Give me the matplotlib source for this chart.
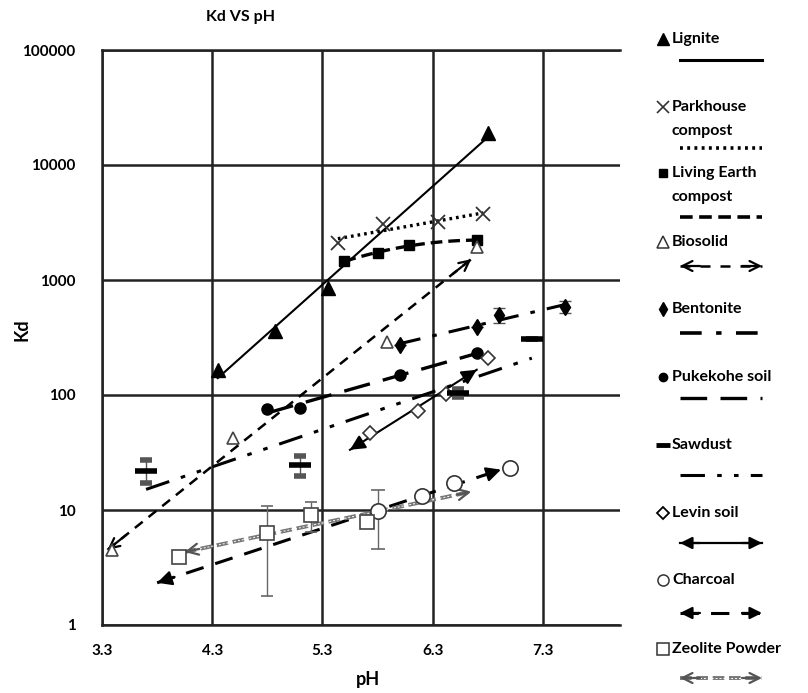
import numpy as np
import matplotlib.pyplot as plt

plt.rcParams['font.family'] = ['Lato', 'DejaVu Sans']
plt.rcParams['font.weight'] = 'bold'

# values: pH and Kd for each sorbent
lignite_ph = [4.35, 4.87, 5.35, 6.80]
lignite_kd = [165, 360, 850, 19000]

parkhouse_ph = [5.44, 5.85, 6.35, 6.76]
parkhouse_kd = [2100, 3080, 3170, 3750]

living_ph = [5.50, 5.80, 6.09, 6.70]
living_kd = [1460, 1720, 2000, 2220]

biosolid_ph = [3.39, 4.49, 5.89, 6.70]
biosolid_kd = [4.5, 42, 290, 1950]

bentonite_ph = [6.0, 6.7, 6.9, 7.5]
bentonite_kd = [272, 390, 497, 582]
bentonite_err = [0, 0, 75, 70]

pukekohe_ph = [4.80, 5.10, 6.00, 6.70]
pukekohe_kd = [75, 77, 149, 232]

sawdust_ph = [3.70, 5.10, 6.53, 7.20]
sawdust_kd = [22, 24.6, 104, 307]
sawdust_err = [5, 5, 8, 0]

levin_ph = [5.73, 6.17, 6.42, 6.80]
levin_kd = [46.7, 72.6, 102, 210]

charcoal_ph = [5.80, 6.20, 6.49, 7.00]
charcoal_kd = [9.8, 13.2, 17.2, 23.2]
charcoal_err = [5.2, 0, 0, 0]

zeolite_ph = [4.0, 4.8, 5.2, 5.7]
zeolite_kd = [3.9, 6.3, 9.05, 7.9]
zeolite_err = [0, 4.5, 2.6, 0]

x_ticks = [3.3, 4.3, 5.3, 6.3, 7.3]
y_ticks = [1, 10, 100, 1000, 10000, 100000]

fig = plt.figure(figsize=(8.08, 6.93), dpi=100)
ax = fig.add_axes([102 / 808, 1 - 625 / 693, 518 / 808, 575 / 693])


def trend(ph, kd, x0, x1, deg=1):
    # exponential trendline (straight in log space)
    c = np.polyfit(ph, np.log10(kd), deg)
    xs = np.linspace(x0, x1, 60)
    return xs, 10 ** np.polyval(c, xs)


def heads(xs, ys, style, color='black', size=16):
    for i, j in [(0, 3), (-1, -4)]:
        ax.annotate('', xy=(xs[i], ys[i]), xytext=(xs[j], ys[j]),
                    arrowprops=dict(arrowstyle=style, color=color, lw=1.6,
                                    mutation_scale=size, shrinkA=0, shrinkB=0))


K = 'black'

# Lignite
xs, ys = trend(lignite_ph, lignite_kd, 4.35, 6.80)
ax.plot(xs, ys, color=K, lw=1.5)
ax.plot(lignite_ph, lignite_kd, '^', color=K, ms=10, zorder=5)

# Parkhouse compost
xs, ys = trend(parkhouse_ph, parkhouse_kd, 5.44, 6.76)
ax.plot(xs, ys, color=K, lw=2.4, ls=(0, (0.8, 1.2)))
ax.plot(parkhouse_ph, parkhouse_kd, 'x', color='#333333', ms=10, mew=1.3, zorder=5)

# Living Earth compost
xs, ys = trend(living_ph, living_kd, 5.50, 6.70, deg=2)
ax.plot(xs, ys, color=K, lw=2.4, ls=(0, (3.5, 1.8)))
ax.plot(living_ph, living_kd, 's', color=K, ms=7, zorder=5)

# Biosolid
xs, ys = trend(biosolid_ph, biosolid_kd, 3.35, 6.65)
ax.plot(xs, ys, color=K, lw=1.8, ls=(0, (4, 3)))
heads(xs, ys, '->', size=18)
ax.plot(biosolid_ph, biosolid_kd, '^', mfc='white', mec='#444444', ms=9, mew=1.2, zorder=5)

# Bentonite
xs, ys = trend(bentonite_ph, bentonite_kd, 6.0, 7.5)
ax.plot(xs, ys, color=K, lw=2.2, ls=(0, (7, 4, 1.5, 4)))
ax.errorbar(bentonite_ph, bentonite_kd, yerr=bentonite_err, fmt='d', color=K,
            ms=8, ecolor='#555555', elinewidth=1, capsize=4, zorder=5)

# Pukekohe soil
xs, ys = trend(pukekohe_ph, pukekohe_kd, 4.80, 6.70)
ax.plot(xs, ys, color=K, lw=2.4, ls=(0, (8, 4)))
ax.plot(pukekohe_ph, pukekohe_kd, 'o', color=K, ms=8, zorder=5)

# Sawdust
xs, ys = trend(sawdust_ph, sawdust_kd, 3.70, 7.20)
ax.plot(xs, ys, color=K, lw=2.2, ls=(0, (8, 4, 1.5, 4, 1.5, 4)))
ax.errorbar(sawdust_ph, sawdust_kd, yerr=sawdust_err, fmt='_', color=K,
            ms=16, mew=4, ecolor='#555555', elinewidth=1, capsize=4, zorder=5)

# Levin soil
xs, ys = trend(levin_ph, levin_kd, 5.55, 6.70)
ax.plot(xs, ys, color=K, lw=1.5)
heads(xs, ys, '-|>', size=22)
ax.plot(levin_ph, levin_kd, 'D', mfc='white', mec='#333333', ms=7, mew=1.2, zorder=5)

# Charcoal
xs, ys = trend(charcoal_ph, charcoal_kd, 3.80, 6.92)
ax.plot(xs, ys, color=K, lw=2.2, ls=(0, (6, 4)))
heads(xs, ys, '-|>', size=22)
ax.errorbar(charcoal_ph, charcoal_kd, yerr=charcoal_err, fmt='o', mfc='white',
            mec='#333333', ms=11, mew=1.2, ecolor='#666666', elinewidth=1,
            capsize=5, zorder=5)

# Zeolite Powder (grey line with a thin white dash inside)
xs, ys = trend(zeolite_ph, zeolite_kd, 4.05, 6.65)
ax.plot(xs, ys, color='#777777', lw=2.8, ls=(0, (3, 1.2)))
ax.plot(xs, ys, color='white', lw=0.7, ls=(0, (2, 2)))
heads(xs, ys, '->', color='#555555', size=20)
ax.errorbar(zeolite_ph, zeolite_kd, yerr=zeolite_err, fmt='s', mfc='white',
            mec='#444444', ms=10, mew=1.2, ecolor='#666666', elinewidth=1,
            capsize=4, zorder=5)

ax.set_yscale('log')
ax.set_xlim(3.3, 8.0)
ax.set_ylim(1, 100000)
ax.set_xticks(x_ticks)
ax.set_yticks(y_ticks)
ax.set_xticklabels([str(v) for v in x_ticks])
ax.set_yticklabels([str(v) for v in y_ticks])
ax.minorticks_off()
ax.tick_params(length=0, labelsize=11)
ax.tick_params(axis='y', pad=19)
ax.tick_params(axis='x', pad=14)
ax.grid(True, color='#222222', lw=1.8)
ax.spines['right'].set_visible(False)
for s in ['left', 'bottom', 'top']:
    ax.spines[s].set_linewidth(1.8)
    ax.spines[s].set_color('#222222')

fig.text(240 / 808, 1 - 17 / 693, 'Kd VS pH', ha='center', va='center', fontsize=11.5)
fig.text(22 / 808, 1 - 330 / 693, 'Kd', rotation=90, ha='center', va='center', fontsize=13)
fig.text(368 / 808, 1 - 680 / 693, 'pH', ha='center', va='center', fontsize=13)

# hand-built legend on the right
lax = fig.add_axes([0, 0, 1, 1])
lax.set_xlim(0, 808)
lax.set_ylim(693, 0)
lax.axis('off')
lax.patch.set_visible(False)

names = ['Lignite', 'Parkhouse\ncompost', 'Living Earth\ncompost', 'Biosolid',
         'Bentonite', 'Pukekohe soil', 'Sawdust', 'Levin soil', 'Charcoal',
         'Zeolite Powder']
name_y = [39, 107, 173, 242, 309, 377, 445, 513, 580, 649]
line_y = [60, 148, 217, 266, 333, 398, 475, 543, 613, 678]
mk = [dict(marker='^', color=K, ms=9),
      dict(marker='x', color='#333333', ms=8, mew=1.2),
      dict(marker='s', color=K, ms=6),
      dict(marker='^', mfc='white', mec='#333333', ms=8, mew=1.1),
      dict(marker='d', color=K, ms=7),
      dict(marker='o', color=K, ms=6),
      dict(marker='_', color=K, ms=10, mew=3.5),
      dict(marker='D', mfc='white', mec=K, ms=6, mew=1.3),
      dict(marker='o', mfc='white', mec='#333333', ms=8, mew=1.1),
      dict(marker='s', mfc='white', mec='#333333', ms=9, mew=1.1)]
styles = [dict(ls='-', lw=2.2), dict(ls=(0, (0.8, 1.2)), lw=2.6),
          dict(ls=(0, (3.5, 1.8)), lw=2.6), dict(ls=(0, (4, 4)), lw=1.8),
          dict(ls=(0, (6, 4, 1.5, 4)), lw=2.6), dict(ls=(0, (8, 4)), lw=2.4),
          dict(ls=(0, (8, 4, 1.5, 4, 1.5, 4)), lw=2.2), dict(ls='-', lw=1.6),
          dict(ls=(0, (6, 4)), lw=2.2), dict(ls=(0, (3, 1.2)), lw=2.8)]
arrows = [None, None, None, '->', None, None, None, '-|>', '-|>', '->']

for i in range(len(names)):
    lax.plot([663], [name_y[i]], ls='none', **mk[i])
    lines = names[i].split('\n')
    for k, t in enumerate(lines):
        lax.text(672, name_y[i] + k * 24, t, ha='left', va='center', fontsize=11.5)
    col = '#777777' if i == 9 else K
    lax.plot([680, 762], [line_y[i]] * 2, color=col, **styles[i])
    if i == 9:
        lax.plot([684, 758], [line_y[i]] * 2, color='white', lw=0.7, ls=(0, (2, 2)))
    if arrows[i]:
        hc = '#555555' if i == 9 else K
        for a, b in [(680, 700), (762, 742)]:
            lax.annotate('', xy=(a, line_y[i]), xytext=(b, line_y[i]),
                         arrowprops=dict(arrowstyle=arrows[i], color=hc, lw=1.6,
                                         mutation_scale=18, shrinkA=0, shrinkB=0))

fig.savefig('out.png', dpi=100)
